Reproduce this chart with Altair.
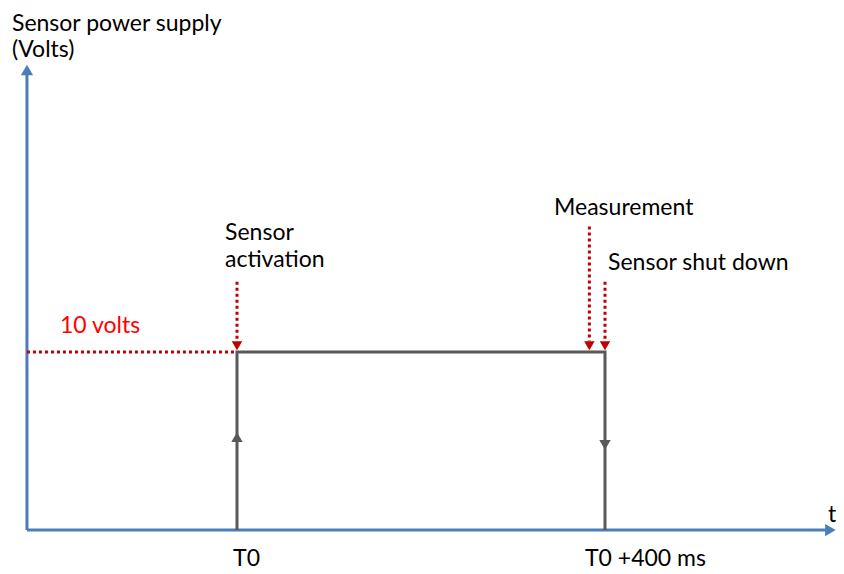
import altair as alt
import pandas as pd

# ---- data (time in ms after T0, supply in volts) ----
pulse_t = [0, 0, 400, 400]
pulse_v = [0, 10, 10, 0]
supply_level = 10
event_names = ["Sensor activation", "Measurement", "Sensor shut down"]
event_t = [0, 383, 400]
tick_labels = ["T0", "T0 +400 ms"]
tick_t = [0, 400]
level_label = "10 volts"
y_title = "Sensor power supply\n(Volts)"
x_title = "t"

# ---- frame (data units covering the drawing) ----
W, H = 828, 562
T_MIN, T_MAX = -248.913, 651.087
V_MIN, V_MAX = -2.247, 29.326
AX_T = -228.3          # where the vertical axis stands
AX_V_TOP = 25.56
AX_T_END = 640.0

BLUE = "#4a7ebb"
GRAY = "#595959"
DRED = "#c00000"
RED = "#ff0000"
FONT = "Lato"
FS = 23

xs = alt.Scale(domain=[T_MIN, T_MAX], nice=False, zero=False)
ys = alt.Scale(domain=[V_MIN, V_MAX], nice=False, zero=False)


def X(f="t"):
    return alt.X(f"{f}:Q", scale=xs, axis=None)


def Y(f="v"):
    return alt.Y(f"{f}:Q", scale=ys, axis=None)


# axes lines
axes_df = pd.DataFrame({
    "t": [AX_T, AX_T], "t2": [AX_T, AX_T_END],
    "v": [0, 0], "v2": [AX_V_TOP, 0],
})
axes = alt.Chart(axes_df).mark_rule(color=BLUE, strokeWidth=3).encode(
    x=X(), x2="t2:Q", y=Y(), y2="v2:Q")

ahead_df = pd.DataFrame({"t": [AX_T], "v": [25.84]})
yhead = alt.Chart(ahead_df).mark_point(shape="triangle-up", filled=True, size=150,
                                       color=BLUE, opacity=1).encode(x=X(), y=Y())
xhead_df = pd.DataFrame({"t": [645.0], "v": [0]})
xhead = alt.Chart(xhead_df).mark_point(shape="triangle-right", filled=True, size=150,
                                       color=BLUE, opacity=1).encode(x=X(), y=Y())

# pulse
pulse_df = pd.DataFrame({"t": pulse_t, "v": pulse_v, "o": list(range(len(pulse_t)))})
pulse = alt.Chart(pulse_df).mark_line(color=GRAY, strokeWidth=3, strokeJoin="miter").encode(
    x=X(), y=Y(), order="o:Q")

up_df = pd.DataFrame({"t": [pulse_t[1]], "v": [5.22]})
up = alt.Chart(up_df).mark_point(shape="triangle-up", filled=True, size=130,
                                 color=GRAY, opacity=1).encode(x=X(), y=Y())
dn_df = pd.DataFrame({"t": [pulse_t[2]], "v": [4.78]})
dn = alt.Chart(dn_df).mark_point(shape="triangle-down", filled=True, size=130,
                                 color=GRAY, opacity=1).encode(x=X(), y=Y())

# red dotted level line and event arrows
level_df = pd.DataFrame({"t": [AX_T], "t2": [pulse_t[1]], "v": [supply_level]})
level = alt.Chart(level_df).mark_rule(color=DRED, strokeWidth=3, strokeDash=[3, 3]).encode(
    x=X(), x2="t2:Q", y=Y())

ev_df = pd.DataFrame({"t": event_t, "top": [13.95, 17.05, 13.95],
                      "bot": [supply_level + 0.6] * 3, "head": [supply_level + 0.35] * 3})
ev = alt.Chart(ev_df).mark_rule(color=DRED, strokeWidth=3, strokeDash=[3, 3]).encode(
    x=X(), y=Y("top"), y2="bot:Q")
evh = alt.Chart(ev_df).mark_point(shape="triangle-down", filled=True, size=110,
                                  color=DRED, opacity=1).encode(x=X(), y=Y("head"))

# y title (own layer, slightly tighter leading)
ytitle_df = pd.DataFrame({"label": [y_title], "t": [-244.6], "v": [28.03]})
ytxt = alt.Chart(ytitle_df).mark_text(align="left", baseline="alphabetic", font=FONT,
                                      fontSize=FS, color="#000000", lineBreak="\n",
                                      lineHeight=26).encode(x=X(), y=Y(), text="label:N")

# other texts
txt_df = pd.DataFrame({
    "label": ["Sensor\nactivation", event_names[1], event_names[2],
              tick_labels[0], tick_labels[1], x_title],
    "t": [-13.0, 344.6, 403.3, -4.3, 378.3, 642.4],
    "v": [16.29, 17.70, 14.61, -2.0, -2.0, 0.45],
})
txt = alt.Chart(txt_df).mark_text(align="left", baseline="alphabetic", font=FONT,
                                  fontSize=FS, color="#000000", lineBreak="\n",
                                  lineHeight=27).encode(x=X(), y=Y(), text="label:N")

red_df = pd.DataFrame({"label": [level_label], "t": [-192.4], "v": [11.07]})
redtxt = alt.Chart(red_df).mark_text(align="left", baseline="alphabetic", font=FONT,
                                     fontSize=FS, color=RED).encode(x=X(), y=Y(), text="label:N")

chart = alt.layer(axes, yhead, xhead, pulse, up, dn, level, ev, evh, ytxt, txt, redtxt).properties(
    width=W, height=H, autosize=alt.AutoSizeParams(type="none"),
    padding={"left": 0, "top": 0, "right": 0, "bottom": 0},
).configure_view(stroke=None)

chart.save("out.html", embed_options={"renderer": "svg", "actions": False})
